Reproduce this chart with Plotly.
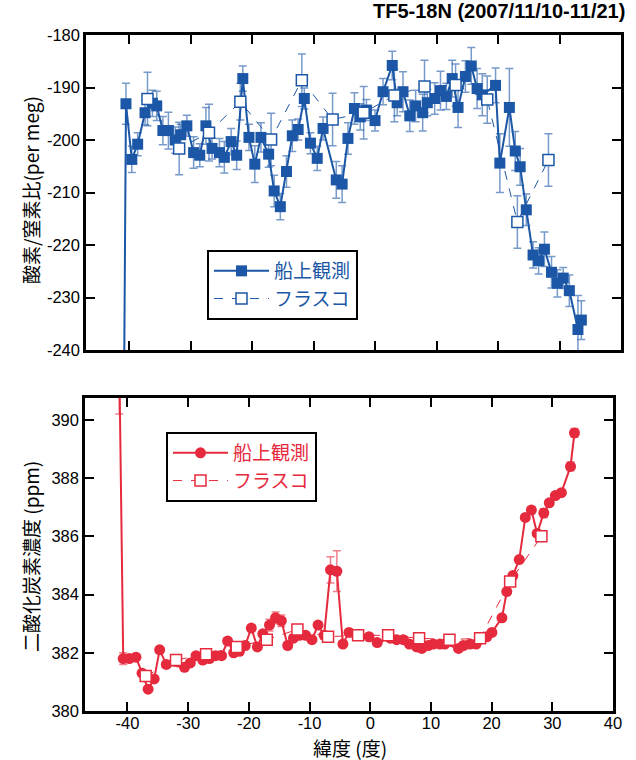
import plotly.graph_objects as go

# ---------------- data ----------------
# O2/N2 ship-board (lat, value, error)
o2_ship_lat = [-40.9, -40.5, -39.55, -38.6, -37.4, -36.2, -35.5, -34.5, -33.6, -32.5, -31.6, -30.6,
               -29.5, -28.5, -27.5, -26.5, -25.3, -24.5, -23.4, -22.5, -21.5, -20.5, -19.55, -18.55,
               -17.3, -16.4, -15.4, -14.4, -13.45, -12.5, -11.5, -10.5, -9.4, -8.45, -6.3, -5.35,
               -4.4, -3.35, -2.4, -1.4, 0.0, 1.3, 2.8, 3.6, 4.55, 5.65, 6.6, 7.75, 8.5, 9.7,
               10.65, 11.6, 12.55, 13.5, 14.7, 15.65, 16.6, 17.45, 19.6, 20.3, 21.85, 22.8, 23.6,
               24.6, 25.7, 26.6, 27.55, 28.7, 29.65, 30.6, 31.6, 33.0, 33.55]
o2_ship_val = [-262, -193.1, -203.7, -200.8, -194.8, -193.0, -193.5, -198.2, -198.2, -200.0, -199.0, -197.3,
               -202.4, -202.9, -197.3, -201.6, -202.4, -203.3, -200.3, -202.9, -188.3, -199.5, -204.6, -199.5,
               -202.7, -209.7, -212.7, -206.0, -199.2, -198.0, -192.1, -200.6, -203.5, -197.8, -207.6, -208.4,
               -199.7, -194.0, -195.6, -194.3, -196.3, -190.8, -185.8, -192.9, -190.8, -195.4, -193.5, -194.8, -192.9, -192.1,
               -190.6, -191.7, -188.3, -193.8, -187.9, -185.9, -190.2, -191.4, -189.6, -204.4, -193.8, -202.1, -205.1,
               -213.3, -221.9, -223.0, -220.8, -225.2, -227.3, -226.3, -228.7, -236.1, -234.3]
o2_ship_err = [3.0, 3.9, 2.5, 2.2, 2.3, 2.5, 2.8, 2.7, 3.5, 2.5, 2.0, 2.0,
               3.0, 2.2, 3.5, 2.0, 2.7, 3.0, 2.5, 2.7, 2.4, 2.5, 3.5, 2.8,
               2.5, 3.0, 2.5, 3.0, 3.0, 2.0, 2.0, 2.0, 2.3, 2.2, 3.5, 3.5,
               3.0, 3.0, 2.5, 2.0, 2.0, 2.5, 2.7, 2.5, 3.8, 3.0, 3.0, 3.5, 2.5, 3.0,
               3.7, 2.5, 3.5, 3.8, 3.0, 3.5, 3.8, 4.0, 3.3, 5.6, 7.4, 3.7, 3.5,
               3.0, 2.5, 2.5, 3.3, 3.0, 2.6, 2.0, 3.0, 6.5, 3.7]

# O2/N2 flask
o2_flask_lat = [-37.0, -31.85, -27.0, -21.9, -16.9, -11.9, -6.9, -1.85, 3.15, 8.05, 13.1, 18.25, 23.15, 28.2]
o2_flask_val = [-192.2, -201.6, -198.6, -192.7, -199.9, -188.6, -196.1, -194.8, -191.5, -189.8, -189.5, -192.3, -215.6, -203.8]
o2_flask_err = [5.1, 5.0, 5.4, 3.5, 5.0, 5.0, 5.0, 5.0, 5.0, 5.0, 4.0, 4.5, 5.0, 5.0]

# CO2 ship-board
co2_ship_lat = [-41.35, -40.7, -39.7, -38.6, -37.6, -36.6, -35.6, -34.7, -33.6, -30.6, -29.65, -28.7,
                -27.6, -26.5, -25.5, -24.5, -23.5, -22.5, -21.55, -20.6, -19.6, -18.6, -17.7, -16.6,
                -15.6, -14.65, -13.6, -12.65, -11.65, -10.65, -9.6, -8.6, -7.6, -6.55, -5.5, -4.5,
                -3.5, -2.3, -0.2, 1.15, 3.3, 4.35, 5.45, 6.45, 7.65, 8.5, 9.55, 10.4, 11.5, 12.3,
                14.55, 15.35, 16.45, 17.45, 19.2, 20.05, 21.7, 22.5, 23.5, 24.55, 25.55, 26.55,
                27.5, 28.6, 29.5, 30.5, 31.5, 33.0, 33.65]
co2_ship_val = [392.0, 381.8, 381.8, 381.85, 381.3, 380.75, 381.1, 382.1, 381.6, 381.5, 381.65, 381.9,
                381.75, 381.8, 381.9, 381.9, 382.4, 382.0, 382.05, 382.25, 382.85, 382.2, 382.65, 382.95,
                383.2, 383.1, 382.25, 382.5, 382.6, 382.6, 382.45, 382.95, 382.6, 384.85, 384.8, 382.3,
                382.7, 382.6, 382.55, 382.35, 382.5, 382.45, 382.45, 382.3, 382.2, 382.15, 382.25, 382.3, 382.3, 382.3,
                382.15, 382.25, 382.3, 382.3, 382.55, 382.7, 383.2, 384.1, 384.65, 385.2, 386.65, 386.9,
                386.1, 386.8, 387.15, 387.4, 387.5, 388.4, 389.55]
co2_ship_err = [1.8, 0.2, 0.1, 0.1, 0.1, 0.1, 0.1, 0.1, 0.1, 0.1, 0.1, 0.1,
                0.1, 0.1, 0.1, 0.1, 0.1, 0.1, 0.1, 0.1, 0.1, 0.1, 0.1, 0.2,
                0.2, 0.2, 0.1, 0.1, 0.1, 0.1, 0.1, 0.1, 0.1, 0.45, 0.7, 0.1,
                0.1, 0.1, 0.1, 0.1, 0.1, 0.1, 0.1, 0.1, 0.1, 0.1, 0.1, 0.1, 0.1, 0.1,
                0.1, 0.1, 0.1, 0.1, 0.1, 0.1, 0.1, 0.1, 0.1, 0.1, 0.1, 0.1,
                0.1, 0.15, 0.1, 0.1, 0.1, 0.15, 0.15]

# CO2 flask
co2_flask_lat = [-37.0, -32.0, -27.05, -22.0, -17.05, -12.0, -6.95, -2.0, 2.95, 8.05, 13.05, 18.1, 23.05, 28.2]
co2_flask_val = [381.2, 381.75, 381.95, 382.2, 382.45, 382.8, 382.55, 382.6, 382.6, 382.5, 382.45, 382.5, 384.45, 386.0]

# tick labels
x_tickvals = [-40, -30, -20, -10, 0, 10, 20, 30, 40]
x_ticktext = ["-40", "-30", "-20", "-10", "0", "10", "20", "30", "40"]
o2_tickvals = [-240, -230, -220, -210, -200, -190, -180]
o2_ticktext = ["-240", "-230", "-220", "-210", "-200", "-190", "-180"]
co2_tickvals = [380, 382, 384, 386, 388, 390]
co2_ticktext = ["380", "382", "384", "386", "388", "390"]

# ---------------- style ----------------
BLUE = "#1b57a6"
BLUE_ERR = "rgba(27,87,166,0.6)"
RED = "#e62a3d"
RED_ERR = "rgba(230,42,61,0.6)"
FONT = "Liberation Sans, Arial, Noto Sans CJK JP"
JFONT = "Noto Sans CJK JP, Liberation Sans"

fig = go.Figure()

fig.add_trace(go.Scatter(
    x=o2_ship_lat, y=o2_ship_val, name="船上観測", mode="lines+markers",
    xaxis="x", yaxis="y", legend="legend",
    line=dict(color=BLUE, width=2),
    marker=dict(symbol="square", size=11, color=BLUE),
    error_y=dict(type="data", array=o2_ship_err, color=BLUE_ERR, thickness=1.5, width=4),
))
fig.add_trace(go.Scatter(
    x=o2_flask_lat, y=o2_flask_val, name="フラスコ", mode="lines+markers",
    xaxis="x", yaxis="y", legend="legend",
    line=dict(color=BLUE, width=1, dash="dash"),
    marker=dict(symbol="square", size=11, color="white", line=dict(color=BLUE, width=1.5)),
    error_y=dict(type="data", array=o2_flask_err, color=BLUE_ERR, thickness=1.5, width=4),
))
fig.add_trace(go.Scatter(
    x=co2_ship_lat, y=co2_ship_val, name="船上観測", mode="lines+markers",
    xaxis="x2", yaxis="y2", legend="legend2",
    line=dict(color=RED, width=2),
    marker=dict(symbol="circle", size=11, color=RED),
    error_y=dict(type="data", array=co2_ship_err, color=RED_ERR, thickness=1.5, width=4),
))
fig.add_trace(go.Scatter(
    x=co2_flask_lat, y=co2_flask_val, name="フラスコ", mode="lines+markers",
    xaxis="x2", yaxis="y2", legend="legend2",
    line=dict(color=RED, width=1, dash="dash"),
    marker=dict(symbol="square", size=11, color="white", line=dict(color=RED, width=1.5)),
))

W, H = 636, 760
axis_common = dict(showline=True, linecolor="black", linewidth=2.5, mirror="ticks",
                   ticks="inside", ticklen=9, tickwidth=2, tickcolor="black",
                   showgrid=False, zeroline=False,
                   tickfont=dict(family=FONT, size=16.5, color="black"))

fig.update_layout(
    width=W, height=H, margin=dict(l=0, r=0, t=0, b=0, autoexpand=False),
    paper_bgcolor="white", plot_bgcolor="white",
    xaxis=dict(domain=[86 / W, 621 / W], range=[-47, 40], tickvals=x_tickvals,
               showticklabels=False, anchor="y", **axis_common),
    yaxis=dict(domain=[1 - 350 / H, 1 - 35 / H], range=[-240, -180],
               tickvals=o2_tickvals, ticktext=o2_ticktext, anchor="x", **axis_common),
    xaxis2=dict(domain=[85 / W, 613 / W], range=[-47, 40], tickvals=x_tickvals,
                ticktext=x_ticktext, ticklabelstandoff=-5, anchor="y2", **axis_common),
    yaxis2=dict(domain=[1 - 711 / H, 1 - 398 / H], range=[380, 390.75],
                tickvals=co2_tickvals, ticktext=co2_ticktext, anchor="x2", **axis_common),
    legend=dict(x=207 / W, y=1 - 250 / H, xanchor="left", yanchor="top",
                bordercolor="black", borderwidth=2, bgcolor="white",
                font=dict(family=JFONT, size=19, color=BLUE), itemwidth=55,
                tracegroupgap=0),
    legend2=dict(x=166 / W, y=1 - 432 / H, xanchor="left", yanchor="top",
                 bordercolor="black", borderwidth=2, bgcolor="white",
                 font=dict(family=JFONT, size=19, color=RED), itemwidth=55,
                 tracegroupgap=0),
    annotations=[
        dict(text="<b>TF5-18N (2007/11/10-11/21)</b>", x=627 / W, y=1 - 11 / H,
             xref="paper", yref="paper", xanchor="right", yanchor="middle",
             showarrow=False, font=dict(family=FONT, size=20, color="black")),
        dict(text="酸素/窒素比(per meg)", x=30 / W, y=1 - 190 / H,
             xref="paper", yref="paper", xanchor="center", yanchor="middle", textangle=-90,
             showarrow=False, font=dict(family=JFONT, size=19, color="black")),
        dict(text="二酸化炭素濃度 (ppm)", x=30 / W, y=1 - 557 / H,
             xref="paper", yref="paper", xanchor="center", yanchor="middle", textangle=-90,
             showarrow=False, font=dict(family=JFONT, size=19, color="black")),
        dict(text="緯度 (度)", x=350 / W, y=1 - 747 / H,
             xref="paper", yref="paper", xanchor="center", yanchor="middle",
             showarrow=False, font=dict(family=JFONT, size=19, color="black")),
    ],
)

fig.write_html("out.html",
               post_script="document.body.style.margin='0';document.body.style.padding='0';")
